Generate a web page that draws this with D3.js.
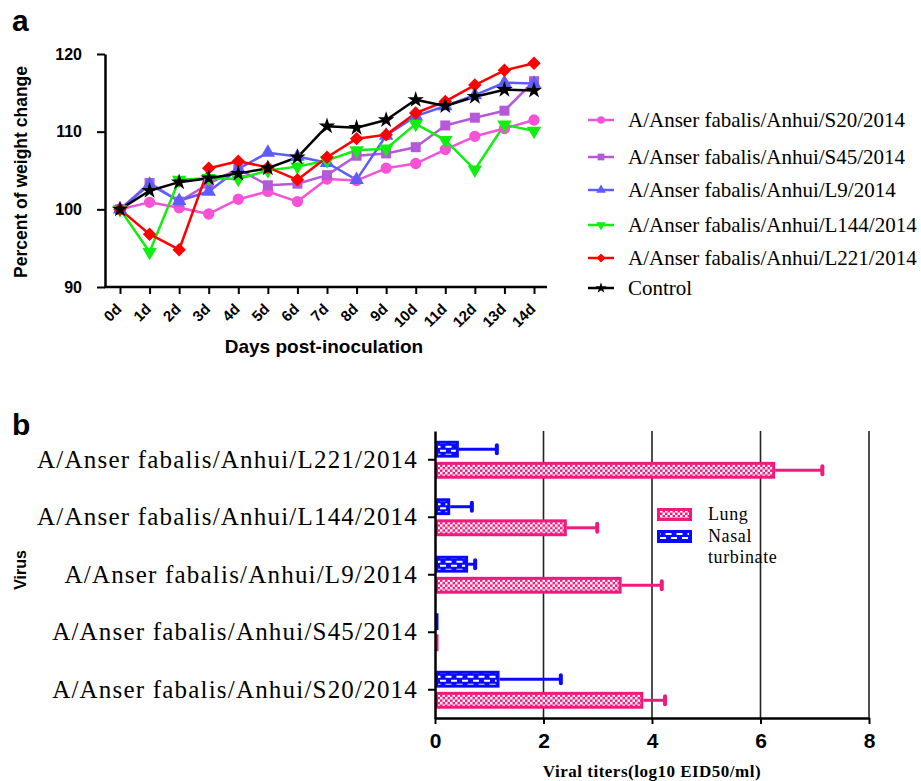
<!DOCTYPE html>
<html>
<head>
<meta charset="utf-8">
<script src="https://cdn.jsdelivr.net/npm/d3@7"></script>
<style>
  body { margin: 0; background: #fff; }
  svg { display: block; }
</style>
</head>
<body>
<div id="chart"></div>
<script>
// ---- data: panel a (weight change) ----
const days = ["0d","1d","2d","3d","4d","5d","6d","7d","8d","9d","10d","11d","12d","13d","14d"];
const s20  = [100, 100.9, 100.2, 99.4, 101.3, 102.3, 101.0, 103.9, 103.7, 105.3, 105.9, 107.7, 109.4, 110.4, 111.5];
const s45  = [100, 103.4, 101.0, 103.3, 105.2, 103.1, 103.3, 104.4, 106.9, 107.2, 108.0, 110.8, 111.8, 112.7, 116.5];
const l9   = [100, 103.2, 101.1, 102.3, 105.2, 107.3, 106.8, 106.0, 103.8, 109.5, 112.0, 113.3, 114.7, 116.3, 116.2];
const l144 = [100, 94.5, 103.8, 104.0, 103.9, 105.0, 105.5, 106.3, 107.6, 107.8, 111.0, 108.9, 105.1, 110.9, 110.1];
const l221 = [100, 96.8, 94.8, 105.3, 106.2, 105.4, 103.8, 106.7, 109.1, 109.6, 112.4, 113.9, 116.0, 117.9, 118.8];
const control = [100, 102.4, 103.5, 104.0, 104.6, 105.3, 106.7, 110.7, 110.5, 111.5, 114.1, 113.3, 114.5, 115.4, 115.3];
const weightTicks = [90, 100, 110, 120];

const lineSeries = [
  { name: "A/Anser fabalis/Anhui/S20/2014", values: s20, color: "#f552d8", symbol: d3.symbolCircle, size: 100 },
  { name: "A/Anser fabalis/Anhui/S45/2014", values: s45, color: "#b45ad8", symbol: d3.symbolSquare, size: 100 },
  { name: "A/Anser fabalis/Anhui/L9/2014", values: l9, color: "#5c5cff", symbol: d3.symbolTriangle, size: 90 },
  { name: "A/Anser fabalis/Anhui/L144/2014", values: l144, color: "#11ee11", symbol: d3.symbolTriangle, size: 90, flip: true },
  { name: "A/Anser fabalis/Anhui/L221/2014", values: l221, color: "#ff0000", symbol: d3.symbolDiamond2, size: 115 },
  { name: "Control", values: control, color: "#000000", symbol: d3.symbolStar, size: 85 }
];

// ---- data: panel b (viral titers) ----
const viruses = ["A/Anser fabalis/Anhui/L221/2014", "A/Anser fabalis/Anhui/L144/2014",
                 "A/Anser fabalis/Anhui/L9/2014", "A/Anser fabalis/Anhui/S45/2014",
                 "A/Anser fabalis/Anhui/S20/2014"];
const lungMean  = [6.27, 2.43, 3.44, 0, 3.84];
const lungErr   = [7.14, 2.99, 4.18, 0, 4.24];
const nasalMean = [0.44, 0.28, 0.61, 0, 1.19];
const nasalErr  = [1.14, 0.68, 0.74, 0, 2.32];
const titerTicks = [0, 2, 4, 6, 8];

const sans = "'Liberation Sans', Arial, sans-serif";
const serif = "'Liberation Serif', 'Times New Roman', serif";

const svg = d3.select("#chart").append("svg")
    .attr("width", 921)
    .attr("height", 781);

// patterns for the bars
const defs = svg.append("defs");
const lungPat = defs.append("pattern")
    .attr("id", "lungPat").attr("patternUnits", "userSpaceOnUse")
    .attr("width", 5).attr("height", 5);
lungPat.append("rect").attr("width", 5).attr("height", 5).attr("fill", "#f01a7e");
lungPat.append("rect").attr("width", 2.5).attr("height", 2.5).attr("fill", "#fff");
lungPat.append("rect").attr("x", 2.5).attr("y", 2.5).attr("width", 2.5).attr("height", 2.5).attr("fill", "#fff");

const nasalPat = defs.append("pattern")
    .attr("id", "nasalPat").attr("patternUnits", "userSpaceOnUse")
    .attr("width", 11).attr("height", 8);
nasalPat.append("rect").attr("width", 11).attr("height", 8).attr("fill", "#0a0aff");
nasalPat.append("rect").attr("x", 0).attr("y", 1).attr("width", 6).attr("height", 2).attr("fill", "#fff");
nasalPat.append("rect").attr("x", 5.5).attr("y", 5).attr("width", 6).attr("height", 2).attr("fill", "#fff");
nasalPat.append("rect").attr("x", -5.5).attr("y", 5).attr("width", 6).attr("height", 2).attr("fill", "#fff");

// ================= panel a =================
svg.append("text").attr("x", 12).attr("y", 31)
    .style("font", `bold 30px ${sans}`).text("a");

const x = d3.scalePoint().domain(days).range([120, 534]);
const y = d3.scaleLinear().domain([90, 120]).range([287, 54]);

const gA = svg.append("g");

// y axis
const yAx = gA.append("g")
    .attr("transform", "translate(105,0)")
    .call(d3.axisLeft(y).tickValues(weightTicks).tickSize(8).tickPadding(15).tickSizeOuter(0));
yAx.select(".domain").attr("stroke-width", 2.5);
yAx.selectAll(".tick line").attr("stroke-width", 2);
yAx.selectAll("text").style("font", `bold 16px ${sans}`).attr("fill", "#000");

// x axis
const xAx = gA.append("g")
    .attr("transform", "translate(0,287)")
    .call(d3.axisBottom(x).tickSize(7).tickSizeOuter(0));
xAx.select(".domain").attr("d", "M104,0H547").attr("stroke-width", 2.5);
xAx.selectAll(".tick line").attr("stroke-width", 2);
xAx.selectAll("text")
    .style("font", `bold 15px ${sans}`).attr("fill", "#000")
    .attr("text-anchor", "end")
    .attr("dy", null).attr("y", 0)
    .attr("transform", "translate(2,23) rotate(-45)");

gA.append("text").attr("x", 324).attr("y", 353).attr("text-anchor", "middle")
    .style("font", `bold 19px ${sans}`).text("Days post-inoculation");
gA.append("text").attr("transform", "translate(27,172) rotate(-90)").attr("text-anchor", "middle")
    .style("font", `bold 17.5px ${sans}`).text("Percent of weight change");

const line = d3.line().x((d, i) => x(days[i])).y(d => y(d));

lineSeries.forEach(s => {
  gA.append("path").datum(s.values)
      .attr("fill", "none").attr("stroke", s.color)
      .attr("stroke-width", 2.5).attr("stroke-linejoin", "round")
      .attr("d", line);
});
lineSeries.forEach(s => {
  gA.append("g").selectAll("path").data(s.values).join("path")
      .attr("d", d3.symbol(s.symbol, s.size))
      .attr("fill", s.color)
      .attr("transform", (d, i) => `translate(${x(days[i])},${y(d)})${s.flip ? " rotate(180)" : ""}`);
});

// legend a
const legYs = [120, 157, 190, 225, 258, 288];
const legA = svg.append("g").selectAll("g").data(lineSeries).join("g")
    .attr("transform", (d, i) => `translate(588,${legYs[i]})`);
legA.append("line").attr("x1", 0).attr("x2", 26)
    .attr("stroke", d => d.color).attr("stroke-width", 2.5);
legA.append("path")
    .attr("d", d => d3.symbol(d.symbol, d.size * 0.45)())
    .attr("fill", d => d.color)
    .attr("transform", d => `translate(13,0)${d.flip ? " rotate(180)" : ""}`);
legA.append("text").attr("x", 40).attr("y", 7)
    .style("font", `21px ${serif}`).text(d => d.name);

// ================= panel b =================
svg.append("text").attr("x", 12).attr("y", 435)
    .style("font", `bold 30px ${sans}`).text("b");

const xb = d3.scaleLinear().domain([0, 8]).range([435, 869]);
const yb = d3.scaleBand().domain(viruses).range([431, 718.5]).paddingInner(0.34).paddingOuter(0.17);
const sub = d3.scaleBand().domain(["Nasal", "Lung"]).range([0, yb.bandwidth()]).paddingInner(0.2);

const gB = svg.append("g");

// grid lines
gB.append("g").selectAll("line").data(titerTicks.slice(1)).join("line")
    .attr("x1", d => xb(d)).attr("x2", d => xb(d))
    .attr("y1", 431).attr("y2", 718)
    .attr("stroke", "#222").attr("stroke-width", 1.6);

const rows = viruses.map((v, i) => ({
  virus: v,
  bars: [
    { key: "Nasal", mean: nasalMean[i], err: nasalErr[i], color: "#0a0aff", fill: "url(#nasalPat)" },
    { key: "Lung", mean: lungMean[i], err: lungErr[i], color: "#f01a7e", fill: "url(#lungPat)" }
  ]
}));

const grp = gB.append("g").selectAll("g").data(rows).join("g")
    .attr("transform", d => `translate(0,${yb(d.virus)})`);

const bar = grp.selectAll("g").data(d => d.bars).join("g")
    .attr("transform", d => `translate(0,${sub(d.key)})`);

// error bars
bar.filter(d => d.err > d.mean).append("line")
    .attr("x1", d => xb(d.mean)).attr("x2", d => xb(d.err))
    .attr("y1", sub.bandwidth() / 2).attr("y2", sub.bandwidth() / 2)
    .attr("stroke", d => d.color).attr("stroke-width", 3);
bar.filter(d => d.err > d.mean).append("line")
    .attr("x1", d => xb(d.err)).attr("x2", d => xb(d.err))
    .attr("y1", sub.bandwidth() / 2 - 4).attr("y2", sub.bandwidth() / 2 + 4)
    .attr("stroke", d => d.color).attr("stroke-width", 4).attr("stroke-linecap", "round");

bar.append("rect")
    .attr("x", d => xb(0) + 1.5)
    .attr("y", 1.5)
    .attr("width", d => Math.max(0.5, xb(d.mean) - xb(0) - 3))
    .attr("height", sub.bandwidth() - 3)
    .attr("fill", d => d.fill)
    .attr("stroke", d => d.color).attr("stroke-width", 3);

// axes b
const ybAx = gB.append("g")
    .attr("transform", "translate(435,0)")
    .call(d3.axisLeft(yb).tickSize(7).tickPadding(10).tickSizeOuter(0));
ybAx.select(".domain").attr("stroke-width", 2.5);
ybAx.selectAll(".tick line").attr("stroke-width", 2);
ybAx.selectAll("text").style("font", `25px ${serif}`).style("letter-spacing", "1.2px").attr("fill", "#000");

const xbAx = gB.append("g")
    .attr("transform", "translate(0,718)")
    .call(d3.axisBottom(xb).tickValues(titerTicks).tickSize(6).tickPadding(9).tickSizeOuter(0));
xbAx.select(".domain").attr("stroke-width", 2.5);
xbAx.selectAll(".tick line").attr("stroke-width", 2);
xbAx.selectAll("text").style("font", `bold 21px ${sans}`).attr("fill", "#000");

gB.append("text").attr("x", 652).attr("y", 777).attr("text-anchor", "middle")
    .style("font", `bold 17px ${serif}`).style("letter-spacing", "0.5px")
    .text("Viral titers(log10 EID50/ml)");
gB.append("text").attr("transform", "translate(26,570) rotate(-90)").attr("text-anchor", "middle")
    .style("font", `bold 16px ${sans}`).text("Virus");

// legend b
const legB = [
  { label: ["Lung"], fill: "url(#lungPat)", color: "#f01a7e", y: 508 },
  { label: ["Nasal", "turbinate"], fill: "url(#nasalPat)", color: "#0a0aff", y: 530 }
];
const lb = gB.append("g").selectAll("g").data(legB).join("g");
lb.append("rect").attr("x", 658.5).attr("y", d => d.y + 1.5).attr("width", 32).attr("height", 10)
    .attr("fill", d => d.fill).attr("stroke", d => d.color).attr("stroke-width", 3);
lb.append("text").style("font", `18px ${serif}`).style("letter-spacing", "0.6px")
    .selectAll("tspan").data(d => d.label.map((t, i) => ({ t, y: d.y + 12 + i * 21 }))).join("tspan")
    .attr("x", 708).attr("y", d => d.y).text(d => d.t);
</script>
</body>
</html>
